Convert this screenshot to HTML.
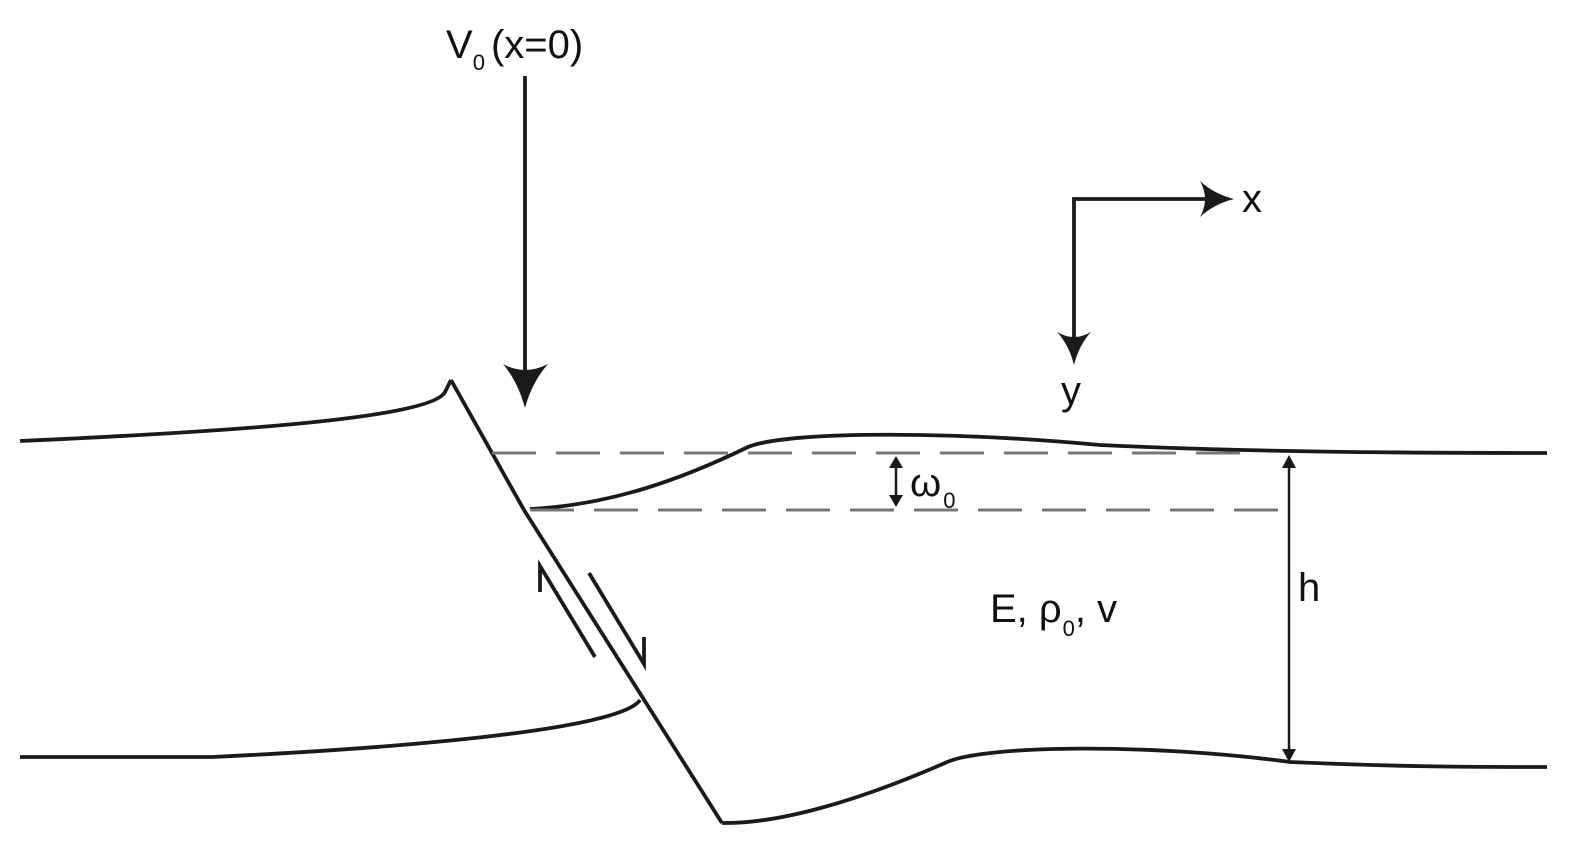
<!DOCTYPE html>
<html><head><meta charset="utf-8"><style>
html,body{margin:0;padding:0;background:#fff;}
svg{display:block;}
text{font-family:"Liberation Sans",sans-serif;fill:#111;}
</style></head><body>
<svg width="1579" height="852" viewBox="0 0 1579 852" xmlns="http://www.w3.org/2000/svg">
<g fill="none" stroke="#1a1a1a" stroke-width="3.8" stroke-linecap="butt" stroke-linejoin="miter">
<path d="M20,441 C200,433 430,420 445,392 L451,380"/>
<path d="M451,380 L524,510"/>
<path d="M524,510 L722,823"/>
<path d="M530,509 C610,505 680,480 748,447 C790,430 960,432 1100,445 C1250,452 1400,453 1547,453"/>
<path d="M20,757 L212,757 C400,748 620,730 640,700"/>
<path d="M722,823 C780,824 860,800 945,763 C980,745 1150,743 1290,762 C1400,767 1480,767 1547,767"/>
<path d="M595,657 L540,566 L540,592"/>
<path d="M589,573 L644,664 L644,637"/>
<path d="M525,76 L525,385"/>
<path d="M1074,340 L1074,199 L1215,199"/>
</g>
<g fill="#1a1a1a">
<path d="M525,408 Q518,382 503,364 Q525,376 548,364 Q532,382 525,408 Z"/>
<path d="M1074,365 Q1069,345 1057,332 Q1074,342 1091,332 Q1079,345 1074,365 Z"/>
<path d="M1234,199 Q1214,194 1200,181 Q1210,199 1200,217 Q1214,204 1234,199 Z"/>
</g>
<g stroke="#777" stroke-width="3" stroke-dasharray="44,20">
<path d="M492,453 L1247,453"/>
<path d="M530,510 L1285,510"/>
</g>
<g stroke="#1a1a1a" stroke-width="2.5" fill="none">
<path d="M896,462 L896,500"/>
<path d="M1289,462 L1289,754"/>
</g>
<g fill="#1a1a1a">
<path d="M896,456 L889,468 L903,468 Z"/>
<path d="M896,507 L889,495 L903,495 Z"/>
<path d="M1289,455 L1282,468 L1296,468 Z"/>
<path d="M1289,762 L1282,749 L1296,749 Z"/>
</g>
<text x="446" y="58" font-size="40">V<tspan font-size="22" dy="12">0</tspan><tspan dy="-12" dx="6">(x=0)</tspan></text>
<text x="1242" y="212" font-size="40">x</text>
<text x="1061" y="404" font-size="40">y</text>
<text x="910" y="496" font-size="40">ω<tspan font-size="22" dy="12" dx="2">0</tspan></text>
<text x="1298" y="601" font-size="40">h</text>
<text x="990" y="622" font-size="40">E, ρ<tspan font-size="22" dy="14" dx="1">0</tspan><tspan dy="-14">, v</tspan></text>
</svg>
</body></html>
